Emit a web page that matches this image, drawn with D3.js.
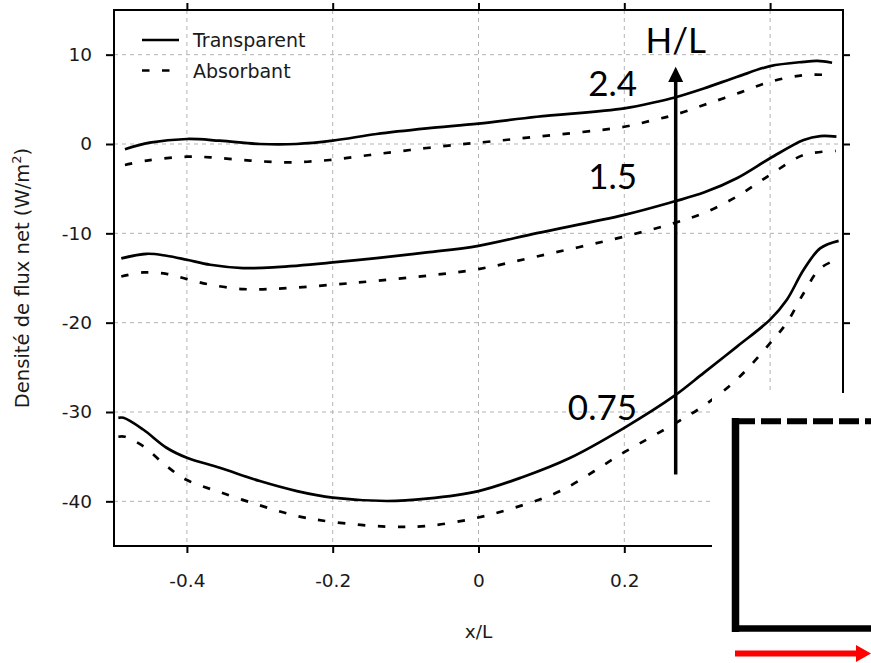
<!DOCTYPE html>
<html>
<head>
<meta charset="utf-8">
<script src="https://d3js.org/d3.v7.min.js"></script>
<style>
  body { margin: 0; background: #fff; }
  text { font-family: "DejaVu Sans", Verdana, sans-serif; }
</style>
</head>
<body>
<script>
// ---- data ----
const xTicks = [-0.4, -0.2, 0, 0.2, 0.4];
const yTicks = [10, 0, -10, -20, -30, -40];

// H/L = 2.4
const x24t = [-0.485, -0.451, -0.4, -0.355, -0.3, -0.25, -0.2, -0.14, -0.071, 0.0, 0.08, 0.2, 0.245, 0.268, 0.309, 0.355, 0.4, 0.446, 0.465, 0.485];
const y24t = [-0.59, 0.15, 0.56, 0.37, 0.0, 0.0, 0.37, 1.12, 1.75, 2.28, 3.05, 3.99, 4.73, 5.18, 6.22, 7.52, 8.72, 9.2, 9.3, 9.1];
const x24a = [-0.485, -0.455, -0.4, -0.368, -0.313, -0.258, -0.204, -0.149, -0.094, -0.034, 0.0, 0.08, 0.2, 0.24, 0.268, 0.309, 0.355, 0.4, 0.446, 0.485];
const y24a = [-2.35, -1.86, -1.42, -1.49, -1.86, -2.05, -1.79, -1.23, -0.67, -0.11, 0.15, 0.82, 1.93, 2.68, 3.24, 4.36, 5.66, 6.96, 7.71, 7.71];

// H/L = 1.5
const x15t = [-0.49, -0.455, -0.428, -0.4, -0.368, -0.323, -0.277, -0.2, -0.14, -0.071, 0.0, 0.08, 0.2, 0.268, 0.309, 0.355, 0.4, 0.446, 0.469, 0.491];
const y15t = [-12.8, -12.29, -12.51, -12.96, -13.52, -13.89, -13.78, -13.26, -12.77, -12.14, -11.4, -9.98, -7.93, -6.44, -5.44, -3.8, -1.6, 0.45, 0.89, 0.82];
const x15a = [-0.49, -0.46, -0.428, -0.4, -0.368, -0.323, -0.277, -0.2, -0.14, -0.071, 0.0, 0.08, 0.2, 0.268, 0.309, 0.355, 0.4, 0.446, 0.49];
const y15a = [-14.83, -14.38, -14.53, -15.12, -15.75, -16.24, -16.2, -15.75, -15.31, -14.75, -14.0, -12.59, -10.36, -8.86, -7.74, -5.85, -3.46, -1.23, -0.78];

// H/L = 0.75
const x075t = [-0.494, -0.487, -0.46, -0.428, -0.4, -0.355, -0.3, -0.249, -0.2, -0.126, -0.071, 0.0, 0.06, 0.126, 0.2, 0.268, 0.309, 0.355, 0.4, 0.423, 0.446, 0.469, 0.494];
const y075t = [-30.65, -30.65, -31.96, -34.0, -35.12, -36.24, -37.73, -38.85, -39.59, -39.96, -39.7, -38.85, -37.3, -35.12, -31.77, -28.23, -25.62, -22.65, -19.66, -17.43, -14.08, -11.66, -10.84];
const x075a = [-0.494, -0.485, -0.46, -0.428, -0.4, -0.355, -0.3, -0.249, -0.2, -0.126, -0.071, -0.007, 0.05, 0.112, 0.2, 0.263, 0.309, 0.355, 0.4, 0.423, 0.446, 0.469, 0.494];
const y075a = [-32.77, -32.77, -33.82, -36.05, -37.62, -38.96, -40.45, -41.64, -42.31, -42.83, -42.76, -41.93, -40.7, -38.85, -34.5, -31.59, -29.3, -26.3, -22.3, -20.0, -16.7, -13.9, -12.88];

const seriesNames = ['Transparent', 'Absorbant'];
const ratioLabels = ['2.4', '1.5', '0.75'];
const ratioLabelY = [5.4, -5.0, -30.9];

// ---- layout ----
const W = 871, H = 663;
const margin = { left: 114, right: 28, top: 10, bottom: 117 };
const svg = d3.select('body').append('svg').attr('width', W).attr('height', H);

const x = d3.scaleLinear().domain([-0.5, 0.5]).range([margin.left, W - margin.right]);
const y = d3.scaleLinear().domain([-45, 15]).range([H - margin.bottom, margin.top]);

// grid
svg.append('g')
  .selectAll('line.vg').data(xTicks).enter().append('line')
  .attr('x1', d => x(d)).attr('x2', d => x(d))
  .attr('y1', y(15)).attr('y2', y(-45))
  .attr('stroke', '#b3b3b3').attr('stroke-width', 1).attr('stroke-dasharray', '4,4');
svg.append('g')
  .selectAll('line.hg').data(yTicks).enter().append('line')
  .attr('x1', x(-0.5)).attr('x2', x(0.5))
  .attr('y1', d => y(d)).attr('y2', d => y(d))
  .attr('stroke', '#b3b3b3').attr('stroke-width', 1).attr('stroke-dasharray', '4,4');

// axes (ticks outward on all four sides), plain hyphen for negatives
const gB = svg.append('g').attr('transform', `translate(0,${y(-45)})`)
  .call(d3.axisBottom(x).tickValues(xTicks).tickFormat(d => d === 0 ? '0' : d.toFixed(1)).tickSize(7).tickPadding(21));
const gT = svg.append('g').attr('transform', `translate(0,${y(15)})`)
  .call(d3.axisTop(x).tickValues(xTicks).tickFormat('').tickSize(7));
const gL = svg.append('g').attr('transform', `translate(${x(-0.5)},0)`)
  .call(d3.axisLeft(y).tickValues(yTicks).tickFormat(d => String(d)).tickSize(8).tickPadding(14));
const gR = svg.append('g').attr('transform', `translate(${x(0.5)},0)`)
  .call(d3.axisRight(y).tickValues(yTicks).tickFormat('').tickSize(7));
[gB, gT, gL, gR].forEach(g => {
  g.select('.domain').remove();
  g.selectAll('line').attr('stroke', '#000').attr('stroke-width', 2);
  g.selectAll('text').attr('fill', '#1a1a1a').style('font-size', '18.5px')
    .style('font-family', '"DejaVu Sans", Verdana, sans-serif');
});

// frame
svg.append('rect')
  .attr('x', x(-0.5)).attr('y', y(15))
  .attr('width', x(0.5) - x(-0.5)).attr('height', y(-45) - y(15))
  .attr('fill', 'none').attr('stroke', '#000').attr('stroke-width', 2);

// curves
const line = d3.line().x(d => x(d[0])).y(d => y(d[1])).curve(d3.curveCatmullRom.alpha(0.5));
const curves = [
  [x24t, y24t, 0], [x24a, y24a, 1],
  [x15t, y15t, 0], [x15a, y15a, 1],
  [x075t, y075t, 0], [x075a, y075a, 1]
];
curves.forEach(([xs, ys, kind]) => {
  svg.append('path')
    .datum(d3.zip(xs, ys))
    .attr('d', line)
    .attr('fill', 'none')
    .attr('stroke', '#000')
    .attr('stroke-width', 2.7)
    .attr('stroke-dasharray', kind === 1 ? '7.5,12.5' : null);
});

// legend
const leg = svg.append('g');
seriesNames.forEach((name, i) => {
  const ly = 40 + i * 30.5;
  leg.append('line')
    .attr('x1', 142).attr('x2', 179).attr('y1', ly).attr('y2', ly)
    .attr('stroke', '#000').attr('stroke-width', 2.7)
    .attr('stroke-dasharray', i === 1 ? '7.5,12.5' : null);
  leg.append('text')
    .attr('x', 193).attr('y', ly + 7)
    .attr('fill', '#1a1a1a').style('font-size', '19px')
    .text(name);
});

// axis titles
svg.append('text')
  .attr('x', x(0)).attr('y', 638)
  .attr('text-anchor', 'middle').attr('fill', '#1a1a1a').style('font-size', '18.5px')
  .text('x/L');
const yl = svg.append('text')
  .attr('transform', `translate(29,${(y(15) + y(-45)) / 2}) rotate(-90)`)
  .attr('text-anchor', 'middle').attr('fill', '#1a1a1a').style('font-size', '19.5px');
yl.append('tspan').text('Densité de flux net (W/m');
yl.append('tspan').attr('dy', -8).style('font-size', '13px').text('2');
yl.append('tspan').attr('dy', 8).text(')');

// ---- annotations ----
const arrowX = 0.2705;
svg.append('line')
  .attr('x1', x(arrowX)).attr('x2', x(arrowX))
  .attr('y1', y(-37)).attr('y2', y(7.2))
  .attr('stroke', '#000').attr('stroke-width', 3.5);
svg.append('path')
  .attr('d', `M${x(arrowX)},${y(8.65)} L${x(arrowX) - 7.5},${y(6.95)} L${x(arrowX) + 7.5},${y(6.95)} Z`)
  .attr('fill', '#000');

const annFont = 'Lato, "Open Sans", sans-serif';
svg.append('text')
  .attr('x', x(arrowX)).attr('y', 53)
  .attr('text-anchor', 'middle').style('font-family', annFont).style('font-size', '35px')
  .attr('fill', '#000').text('H/L');
ratioLabels.forEach((t, i) => {
  svg.append('text')
    .attr('x', 637).attr('y', y(ratioLabelY[i]))
    .attr('text-anchor', 'end').style('font-family', annFont).style('font-size', '35px')
    .attr('fill', '#000').text(t);
});

// white box with cavity sketch
svg.append('rect').attr('x', 712).attr('y', 393).attr('width', W - 712).attr('height', H - 393).attr('fill', '#fff');
svg.append('line').attr('x1', 735.5).attr('x2', 735.5).attr('y1', 418).attr('y2', 632)
  .attr('stroke', '#000').attr('stroke-width', 7.5);
svg.append('line').attr('x1', 732).attr('x2', W).attr('y1', 628.5).attr('y2', 628.5)
  .attr('stroke', '#000').attr('stroke-width', 6.5);
svg.append('line').attr('x1', 735).attr('x2', W).attr('y1', 421.3).attr('y2', 421.3)
  .attr('stroke', '#000').attr('stroke-width', 6).attr('stroke-dasharray', '20,6');
svg.append('line').attr('x1', 735).attr('x2', 857).attr('y1', 653.5).attr('y2', 653.5)
  .attr('stroke', '#ff0000').attr('stroke-width', 6);
svg.append('path').attr('d', 'M856,645 L871,653.5 L856,662 Z').attr('fill', '#ff0000');
</script>
</body>
</html>
